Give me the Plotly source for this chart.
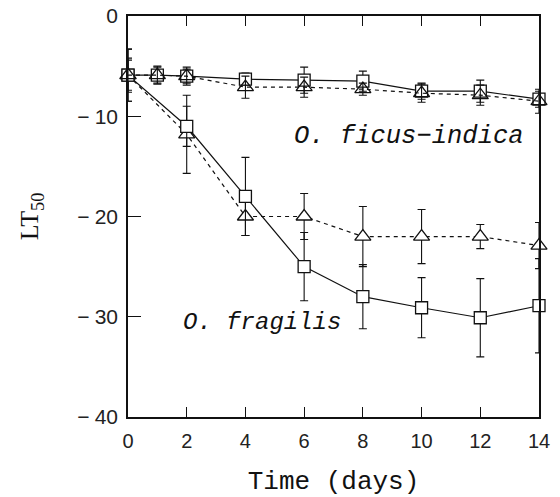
import plotly.graph_objects as go

# ---- data ----
days_ficus = [0, 1, 2, 4, 6, 8, 10, 12, 14]
ficus_sq = [-5.9, -5.9, -6.0, -6.3, -6.4, -6.5, -7.5, -7.5, -8.3]
ficus_sq_err = [1.5, 0.9, 0.9, 0.6, 1.3, 1.0, 0.8, 1.1, 0.8]
ficus_tri = [-5.9, -5.9, -6.0, -7.1, -7.1, -7.3, -7.7, -7.9, -8.5]
ficus_tri_err = [1.7, 0.8, 0.7, 1.1, 1.0, 0.6, 0.9, 1.0, 1.2]

days_frag = [0, 2, 4, 6, 8, 10, 12, 14]
frag_sq = [-5.9, -11.0, -18.0, -25.0, -28.0, -29.1, -30.1, -28.9]
frag_sq_err = [2.6, 2.0, 3.9, 3.4, 3.2, 3.0, 3.9, 4.7]
frag_tri = [-5.9, -11.8, -20.0, -20.0, -22.0, -22.0, -22.0, -22.9]
frag_tri_err = [2.6, 3.9, 1.9, 2.3, 3.0, 2.7, 1.2, 2.3]

label_ficus = "O. ficus\u2212indica"
label_frag = "O. fragilis"
x_ticks = [0, 2, 4, 6, 8, 10, 12, 14]
y_ticks = [-40, -30, -20, -10, 0]
y_ticktext = ["\u2212\u200540", "\u2212\u200530", "\u2212\u200520", "\u2212\u200510", "0"]

BLACK = "#111111"


def series(x, y, err, symbol, dash, fill, size):
    return go.Scatter(
        x=x, y=y, mode="lines+markers",
        line=dict(color=BLACK, width=1.2, dash=dash),
        marker=dict(symbol=symbol, size=size, color=fill,
                    line=dict(color=BLACK, width=1.3)),
        error_y=dict(type="data", array=err, visible=True,
                     color=BLACK, thickness=1.1, width=4),
        cliponaxis=False, showlegend=False,
    )


fig = go.Figure()
fig.add_trace(series(days_frag, frag_tri, frag_tri_err, "triangle-up", "4px,4px", "white", 14))
fig.add_trace(series(days_frag, frag_sq, frag_sq_err, "square", "solid", "white", 12))
fig.add_trace(series(days_ficus, ficus_sq, ficus_sq_err, "square", "solid", "white", 12))
fig.add_trace(series(days_ficus, ficus_tri, ficus_tri_err, "triangle-up", "4px,4px", "rgba(255,255,255,0)", 14))

fig.add_annotation(x=9.57, y=-12.0, text=label_ficus, showarrow=False,
                   font=dict(family="Liberation Mono", size=25.5, color=BLACK, style="italic"))
fig.add_annotation(x=4.58, y=-30.6, text=label_frag, showarrow=False,
                   font=dict(family="Liberation Mono", size=24, color=BLACK, style="italic"))

fig.update_layout(
    width=560, height=497,
    margin=dict(l=128, r=21, t=16, b=80),
    paper_bgcolor="white", plot_bgcolor="white",
    xaxis=dict(
        range=[0, 14], tickvals=x_ticks, ticks="inside", ticklen=10, tickwidth=1.2,
        tickcolor=BLACK, showline=True, linecolor=BLACK, linewidth=1.5,
        mirror="ticks", showgrid=False, zeroline=False, automargin=False,
        ticklabelstandoff=5, ticklabeloverflow="allow",
        tickfont=dict(family="Liberation Sans", size=20, color="#222"),
        title=dict(text="Time (days)", standoff=25,
                   font=dict(family="Liberation Mono", size=26, color=BLACK)),
    ),
    yaxis=dict(
        range=[-40, 0], tickvals=y_ticks, ticktext=y_ticktext,
        ticks="inside", ticklen=13, tickwidth=1.2, ticklabelstandoff=4,
        ticklabeloverflow="allow",
        tickcolor=BLACK, showline=True, linecolor=BLACK, linewidth=1.5,
        mirror=True, showgrid=False, zeroline=False, automargin=False,
        tickfont=dict(family="Liberation Sans", size=21, color="#222"),
        title=dict(text="LT<sub>50</sub>", standoff=31,
                   font=dict(family="Liberation Serif", size=26, color=BLACK)),
    ),
)

# remove the browser's default 8px body margin so the figure fills the window
fig.write_html("out.html",
               config={"displayModeBar": False},
               post_script="document.body.style.margin='0px';document.body.style.overflow='hidden';")
